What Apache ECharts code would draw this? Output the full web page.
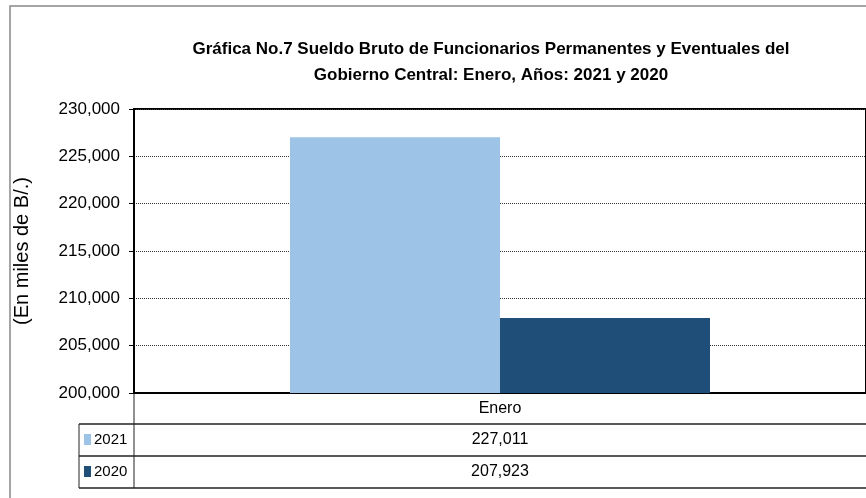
<!DOCTYPE html>
<html>
<head>
<meta charset="utf-8">
<script src="https://cdn.jsdelivr.net/npm/echarts@6/dist/echarts.min.js"></script>
<style>
  html, body { margin: 0; padding: 0; background: #fff; }
  #chart { width: 866px; height: 498px; }
</style>
</head>
<body>
<div id="chart"></div>
<script>
const categories = ["Enero"];
const seriesNames = ["2021", "2020"];
const values2021 = [227011];
const values2020 = [207923];
const yTicks = [200000, 205000, 210000, 215000, 220000, 225000, 230000];
const colors = ["#9DC3E6", "#1F4E79"];

const narrow = "'Liberation Sans Narrow', 'Arial Narrow', 'Liberation Sans', Arial, sans-serif";
const fmt = (v) => v.toLocaleString("en-US");

const chart = echarts.init(document.getElementById("chart"));

chart.setOption({
  animation: false,
  backgroundColor: "#fff",
  title: {
    text: "Gráfica No.7 Sueldo Bruto de Funcionarios Permanentes y Eventuales del\nGobierno Central: Enero, Años: 2021 y 2020",
    left: 486,
    top: 31,
    textAlign: "center",
    textStyle: {
      fontFamily: narrow,
      fontWeight: "bold",
      fontSize: 17,
      lineHeight: 26,
      color: "#000",
    },
  },
  grid: {
    left: 134,
    right: 0,
    top: 109,
    bottom: 105,
    show: true,
    borderColor: "#000",
    borderWidth: 2,
  },
  xAxis: {
    type: "category",
    data: categories,
    axisLine: { lineStyle: { color: "#000", width: 2 } },
    axisTick: { show: false },
    axisLabel: {
      margin: 8,
      fontFamily: narrow,
      fontSize: 16,
      color: "#000",
    },
  },
  yAxis: {
    type: "value",
    min: yTicks[0],
    max: yTicks[yTicks.length - 1],
    interval: 5000,
    name: "(En miles de B/.)",
    nameLocation: "middle",
    nameGap: 102,
    nameTextStyle: {
      fontFamily: "'Liberation Sans', Arial, sans-serif",
      fontSize: 20,
      color: "#000",
    },
    axisLine: { show: true, lineStyle: { color: "#000", width: 1 } },
    axisTick: { show: true, length: 5, lineStyle: { color: "#000" } },
    axisLabel: {
      margin: 14,
      fontFamily: narrow,
      fontSize: 17,
      color: "#000",
      formatter: (v) => fmt(v),
    },
    splitLine: {
      show: true,
      lineStyle: { color: "#333", type: [1, 1], width: 1 },
    },
  },
  series: [
    {
      name: seriesNames[0],
      type: "bar",
      data: values2021,
      barWidth: 210,
      barGap: "0%",
      itemStyle: { color: colors[0] },
    },
    {
      name: seriesNames[1],
      type: "bar",
      data: values2020,
      barWidth: 210,
      barGap: "0%",
      itemStyle: { color: colors[1] },
    },
  ],
});

// data table below the axis
const cx = chart.convertToPixel({ xAxisIndex: 0 }, categories[0]);
const axisY = chart.convertToPixel({ yAxisIndex: 0 }, yTicks[0]);
const plotLeft = 134;
const tableLeft = 79;
const rowH = 32;
const row1 = axisY + 31;
const W = 866;
const lineStyle = { stroke: "#222", lineWidth: 1.5 };
const rows = [values2021, values2020];

const graphics = [
  // outer frame
  {
    type: "polyline",
    shape: { points: [[10, 498], [10, 6], [W, 6]] },
    style: { stroke: "#888", lineWidth: 1.5, fill: null },
    silent: true,
  },
  // vertical separators
  {
    type: "line",
    shape: { x1: plotLeft, y1: axisY, x2: plotLeft, y2: row1 + 2 * rowH },
    style: { stroke: "#222", lineWidth: 1 },
  },
  {
    type: "line",
    shape: { x1: tableLeft, y1: row1, x2: tableLeft, y2: row1 + 2 * rowH },
    style: { stroke: "#222", lineWidth: 1 },
  },
];
for (let i = 0; i <= 2; i++) {
  graphics.push({
    type: "line",
    shape: { x1: tableLeft, y1: row1 + i * rowH, x2: W, y2: row1 + i * rowH },
    style: lineStyle,
  });
}
rows.forEach((vals, i) => {
  const midY = row1 + i * rowH + rowH / 2;
  graphics.push({
    type: "rect",
    shape: { x: 84, y: midY - 6, width: 7, height: 11 },
    style: { fill: colors[i] },
  });
  graphics.push({
    type: "text",
    x: 94,
    y: midY,
    style: {
      text: seriesNames[i],
      fontFamily: narrow,
      fontSize: 15,
      fill: "#000",
      verticalAlign: "middle",
    },
  });
  graphics.push({
    type: "text",
    x: cx,
    y: midY,
    style: {
      text: fmt(vals[0]),
      fontFamily: narrow,
      fontSize: 16,
      fill: "#000",
      align: "center",
      verticalAlign: "middle",
    },
  });
});
chart.setOption({ graphic: graphics });
</script>
</body>
</html>
